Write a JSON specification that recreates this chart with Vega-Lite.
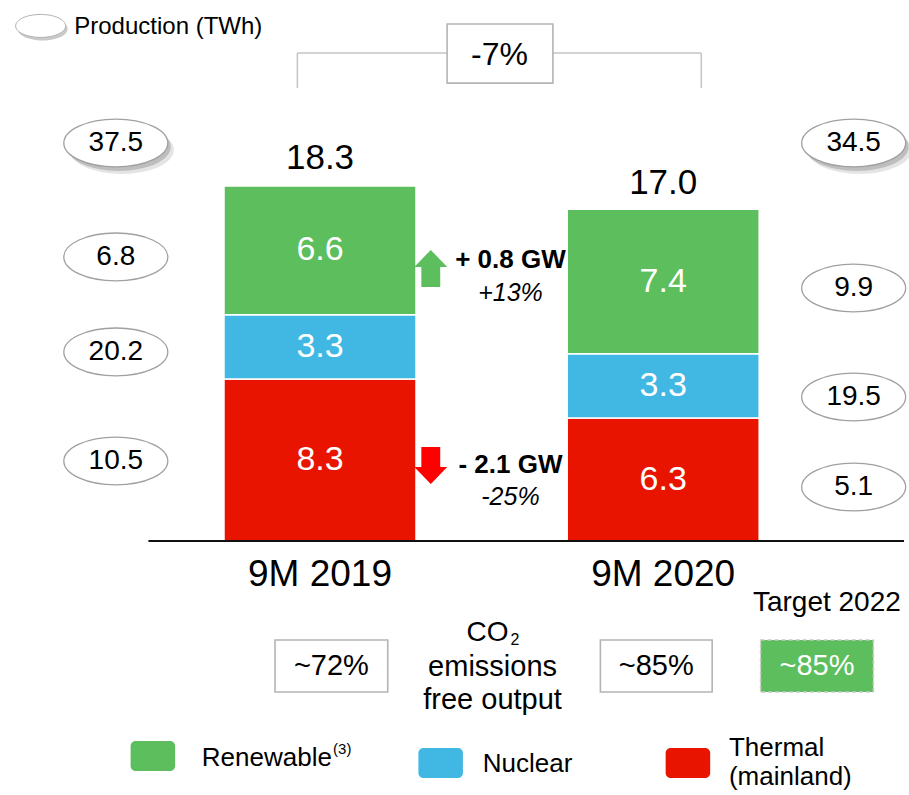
{
  "$schema": "https://vega.github.io/schema/vega-lite/v6.json",
  "width": 909,
  "height": 795,
  "padding": 0,
  "autosize": {"type": "none"},
  "background": "white",
  "config": {"view": {"stroke": null}, "text": {"font": "Liberation Sans", "color": "#000000"}},
  "datasets": {
    "bars": [
      {"period": "9M 2019", "pos": 1, "source": "Thermal", "rank": 1, "value": 8.3},
      {"period": "9M 2019", "pos": 1, "source": "Nuclear", "rank": 2, "value": 3.3},
      {"period": "9M 2019", "pos": 1, "source": "Renewable", "rank": 3, "value": 6.6},
      {"period": "9M 2020", "pos": 2, "source": "Thermal", "rank": 1, "value": 6.3},
      {"period": "9M 2020", "pos": 2, "source": "Nuclear", "rank": 2, "value": 3.3},
      {"period": "9M 2020", "pos": 2, "source": "Renewable", "rank": 3, "value": 7.4}
    ],
    "totals": [
      {"period": "9M 2019", "pos": 1, "total": 18.3},
      {"period": "9M 2020", "pos": 2, "total": 17.0}
    ],
    "production": [
      {"x": 0.405, "y": 20.40, "label": "37.5", "shadow": true},
      {"x": 0.405, "y": 14.56, "label": "6.8", "shadow": false},
      {"x": 0.405, "y": 9.69, "label": "20.2", "shadow": false},
      {"x": 0.405, "y": 4.10, "label": "10.5", "shadow": false},
      {"x": 2.555, "y": 20.40, "label": "34.5", "shadow": true},
      {"x": 2.555, "y": 12.97, "label": "9.9", "shadow": false},
      {"x": 2.555, "y": 7.38, "label": "19.5", "shadow": false},
      {"x": 2.555, "y": 2.77, "label": "5.1", "shadow": false}
    ],
    "lines": [
      {"kind": "bracket", "x": 0.934, "y": 25.01, "x2": 0.934, "y2": 23.22},
      {"kind": "bracket", "x": 0.934, "y": 25.01, "x2": 2.111, "y2": 25.01},
      {"kind": "bracket", "x": 2.111, "y": 25.01, "x2": 2.111, "y2": 23.22},
      {"kind": "base", "x": 0.5, "y": 0, "x2": 2.7017, "y2": 0}
    ],
    "boxes": [
      {"kind": "plain", "x": 1.3703, "x2": 1.6787, "y": 26.50, "y2": 23.47},
      {"kind": "plain", "x": 0.8689, "x2": 1.1974, "y": -5.074, "y2": -7.740},
      {"kind": "plain", "x": 1.8170, "x2": 2.1427, "y": -5.074, "y2": -7.740},
      {"kind": "target", "x": 2.2839, "x2": 2.6124, "y": -5.074, "y2": -7.740}
    ],
    "swatches": [
      {"source": "Renewable", "x": 0.4481, "x2": 0.5778, "y": -10.25, "y2": -11.79},
      {"source": "Nuclear", "x": 1.2867, "x2": 1.4164, "y": -10.61, "y2": -12.15},
      {"source": "Thermal", "x": 2.0072, "x2": 2.1369, "y": -10.61, "y2": -12.15}
    ],
    "arrows": [
      {"dir": "up", "x": 1.3228, "y": 13.97},
      {"dir": "down", "x": 1.3228, "y": 3.87}
    ],
    "texts": [
      {"kind": "pct", "x": 1.5231, "y": 24.91, "text": "-7%"},
      {"kind": "cat", "x": 1, "y": -1.743, "text": "9M 2019"},
      {"kind": "cat", "x": 2, "y": -1.743, "text": "9M 2020"},
      {"kind": "gw", "x": 1.555, "y": 14.40, "text": "+ 0.8 GW"},
      {"kind": "gw", "x": 1.555, "y": 3.895, "text": "- 2.1 GW"},
      {"kind": "chg", "x": 1.555, "y": 12.71, "text": "+13%"},
      {"kind": "chg", "x": 1.555, "y": 2.255, "text": "-25%"},
      {"kind": "target", "x": 2.4769, "y": -3.178, "text": "Target 2022"},
      {"kind": "bottom", "x": 1.0331, "y": -6.407, "text": "~72%"},
      {"kind": "bottom", "x": 1.9798, "y": -6.407, "text": "~85%"},
      {"kind": "bottom", "x": 1.5029, "y": -6.458, "text": "emissions"},
      {"kind": "bottom", "x": 1.5029, "y": -8.150, "text": "free output"},
      {"kind": "bottomw", "x": 2.4481, "y": -6.407, "text": "~85%"},
      {"kind": "co", "x": 1.549, "y": -4.74, "text": "CO"},
      {"kind": "sub", "x": 1.5548, "y": -5.10, "text": "2"},
      {"kind": "legend", "x": 0.6556, "y": -11.12, "text": "Renewable"},
      {"kind": "legend", "x": 1.4741, "y": -11.43, "text": "Nuclear"},
      {"kind": "legend", "x": 2.1916, "y": -10.61, "text": "Thermal"},
      {"kind": "legend", "x": 2.1916, "y": -12.10, "text": "(mainland)"},
      {"kind": "sup", "x": 1.038, "y": -10.66, "text": "(3)"},
      {"kind": "prod", "x": 0.2839, "y": 26.35, "text": "Production (TWh)"}
    ],
    "prodkey": [
      {"x": 0.1859, "y": 26.40}
    ]
  },
  "encoding": {
    "x": {"field": "x", "type": "quantitative", "scale": {"domain": [0.0821, 2.7017], "nice": false, "zero": false}, "axis": null},
    "y": {"field": "y", "type": "quantitative", "scale": {"domain": [-13.019, 27.729], "nice": false, "zero": false}, "axis": null}
  },
  "layer": [
    {
      "data": {"name": "bars"},
      "transform": [
        {"stack": "value", "groupby": ["pos"], "sort": [{"field": "rank", "order": "ascending"}], "as": ["y0", "y1"]}
      ],
      "mark": {"type": "bar", "width": 192, "stroke": "white", "strokeWidth": 1.5},
      "encoding": {
        "x": {"field": "pos", "type": "quantitative", "scale": {"domain": [0.0821, 2.7017], "nice": false, "zero": false}, "axis": null},
        "y": {"field": "y0", "type": "quantitative", "scale": {"domain": [-13.019, 27.729], "nice": false, "zero": false}, "axis": null},
        "y2": {"field": "y1"},
        "color": {"field": "source", "type": "nominal", "scale": {"domain": ["Renewable", "Nuclear", "Thermal"], "range": ["#5CBE5C", "#41B8E4", "#E81400"]}, "legend": null}
      }
    },
    {
      "data": {"name": "bars"},
      "transform": [
        {"stack": "value", "groupby": ["pos"], "sort": [{"field": "rank", "order": "ascending"}], "as": ["y0", "y1"]},
        {"calculate": "(datum.y0 + datum.y1) / 2", "as": "mid"}
      ],
      "mark": {"type": "text", "fontSize": 34, "color": "white", "baseline": "middle", "align": "center"},
      "encoding": {
        "x": {"field": "pos", "type": "quantitative", "scale": {"domain": [0.0821, 2.7017], "nice": false, "zero": false}, "axis": null},
        "y": {"field": "mid", "type": "quantitative", "scale": {"domain": [-13.019, 27.729], "nice": false, "zero": false}, "axis": null},
        "text": {"field": "value", "type": "quantitative", "format": ".1f"}
      }
    },
    {
      "data": {"name": "totals"},
      "mark": {"type": "text", "fontSize": 35, "baseline": "alphabetic", "align": "center", "dy": -15},
      "encoding": {
        "x": {"field": "pos", "type": "quantitative", "scale": {"domain": [0.0821, 2.7017], "nice": false, "zero": false}, "axis": null},
        "y": {"field": "total", "type": "quantitative", "scale": {"domain": [-13.019, 27.729], "nice": false, "zero": false}, "axis": null},
        "text": {"field": "total", "type": "quantitative", "format": ".1f"}
      }
    },
    {
      "data": {"name": "lines"},
      "transform": [{"filter": "datum.kind === 'bracket'"}],
      "mark": {"type": "rule", "color": "#c4c4c4", "strokeWidth": 1.5},
      "encoding": {"x2": {"field": "x2"}, "y2": {"field": "y2"}}
    },
    {
      "data": {"name": "lines"},
      "transform": [{"filter": "datum.kind === 'base'"}],
      "mark": {"type": "rule", "color": "#111111", "strokeWidth": 2.2},
      "encoding": {"x2": {"field": "x2"}, "y2": {"field": "y2"}}
    },
    {
      "data": {"name": "boxes"},
      "transform": [{"filter": "datum.kind === 'plain'"}],
      "mark": {"type": "rect", "fill": "white", "stroke": "#b4b4b4", "strokeWidth": 1.6},
      "encoding": {"x2": {"field": "x2"}, "y2": {"field": "y2"}}
    },
    {
      "data": {"name": "boxes"},
      "transform": [{"filter": "datum.kind === 'target'"}],
      "mark": {"type": "rect", "fill": "#5CBE5C", "stroke": "#c8c8c8", "strokeWidth": 1.6, "strokeDash": [4, 3]},
      "encoding": {"x2": {"field": "x2"}, "y2": {"field": "y2"}}
    },
    {
      "data": {"name": "swatches"},
      "mark": {"type": "rect", "cornerRadius": 5},
      "encoding": {
        "x2": {"field": "x2"},
        "y2": {"field": "y2"},
        "color": {"field": "source", "type": "nominal", "scale": {"domain": ["Renewable", "Nuclear", "Thermal"], "range": ["#5CBE5C", "#41B8E4", "#E81400"]}, "legend": null}
      }
    },
    {
      "data": {"name": "production"},
      "transform": [{"filter": "datum.shadow"}],
      "mark": {"type": "point", "shape": "M-1,0C-1,-0.254,-0.552,-0.46,0,-0.46C0.552,-0.46,1,-0.254,1,0C1,0.254,0.552,0.46,0,0.46C-0.552,0.46,-1,0.254,-1,0Z", "size": 10816, "filled": true, "fill": "#777777", "opacity": 0.2, "strokeWidth": 0, "xOffset": 6, "yOffset": 7}
    },
    {
      "data": {"name": "production"},
      "transform": [{"filter": "datum.shadow"}],
      "mark": {"type": "point", "shape": "M-1,0C-1,-0.254,-0.552,-0.46,0,-0.46C0.552,-0.46,1,-0.254,1,0C1,0.254,0.552,0.46,0,0.46C-0.552,0.46,-1,0.254,-1,0Z", "size": 10816, "filled": true, "fill": "#777777", "opacity": 0.35, "strokeWidth": 0, "xOffset": 3, "yOffset": 4}
    },
    {
      "data": {"name": "production"},
      "mark": {"type": "point", "shape": "M-1,0C-1,-0.254,-0.552,-0.46,0,-0.46C0.552,-0.46,1,-0.254,1,0C1,0.254,0.552,0.46,0,0.46C-0.552,0.46,-1,0.254,-1,0Z", "size": 10816, "filled": true, "fill": "white", "stroke": "#a0a0a0", "strokeWidth": 1.3, "opacity": 1}
    },
    {
      "data": {"name": "production"},
      "mark": {"type": "text", "fontSize": 28, "baseline": "middle", "align": "center"},
      "encoding": {"text": {"field": "label"}}
    },
    {
      "data": {"name": "prodkey"},
      "mark": {"type": "point", "shape": "M-1,0C-1,-0.254,-0.552,-0.46,0,-0.46C0.552,-0.46,1,-0.254,1,0C1,0.254,0.552,0.46,0,0.46C-0.552,0.46,-1,0.254,-1,0Z", "size": 2500, "filled": true, "fill": "#777777", "opacity": 0.4, "strokeWidth": 0, "xOffset": 2, "yOffset": 3}
    },
    {
      "data": {"name": "prodkey"},
      "mark": {"type": "point", "shape": "M-1,0C-1,-0.254,-0.552,-0.46,0,-0.46C0.552,-0.46,1,-0.254,1,0C1,0.254,0.552,0.46,0,0.46C-0.552,0.46,-1,0.254,-1,0Z", "size": 2500, "filled": true, "fill": "white", "stroke": "#b0b0b0", "strokeWidth": 1, "opacity": 1}
    },
    {
      "data": {"name": "arrows"},
      "transform": [{"filter": "datum.dir === 'up'"}],
      "mark": {"type": "point", "shape": "M0,-1L0.89,-0.08L0.51,-0.08L0.51,1L-0.51,1L-0.51,-0.08L-0.89,-0.08Z", "size": 1369, "filled": true, "fill": "#5CBE5C", "strokeWidth": 0, "opacity": 1}
    },
    {
      "data": {"name": "arrows"},
      "transform": [{"filter": "datum.dir === 'down'"}],
      "mark": {"type": "point", "shape": "M0,1L0.89,0.08L0.51,0.08L0.51,-1L-0.51,-1L-0.51,0.08L-0.89,0.08Z", "size": 1369, "filled": true, "fill": "#FF0000", "strokeWidth": 0, "opacity": 1}
    },
    {
      "data": {"name": "texts"},
      "transform": [{"filter": "datum.kind === 'pct'"}],
      "mark": {"type": "text", "fontSize": 32, "baseline": "middle", "align": "center"},
      "encoding": {"text": {"field": "text"}}
    },
    {
      "data": {"name": "texts"},
      "transform": [{"filter": "datum.kind === 'cat'"}],
      "mark": {"type": "text", "fontSize": 37, "baseline": "middle", "align": "center"},
      "encoding": {"text": {"field": "text"}}
    },
    {
      "data": {"name": "texts"},
      "transform": [{"filter": "datum.kind === 'gw'"}],
      "mark": {"type": "text", "fontSize": 26, "fontWeight": "bold", "baseline": "middle", "align": "center"},
      "encoding": {"text": {"field": "text"}}
    },
    {
      "data": {"name": "texts"},
      "transform": [{"filter": "datum.kind === 'chg'"}],
      "mark": {"type": "text", "fontSize": 25, "fontStyle": "italic", "baseline": "middle", "align": "center"},
      "encoding": {"text": {"field": "text"}}
    },
    {
      "data": {"name": "texts"},
      "transform": [{"filter": "datum.kind === 'target'"}],
      "mark": {"type": "text", "fontSize": 28, "baseline": "middle", "align": "center"},
      "encoding": {"text": {"field": "text"}}
    },
    {
      "data": {"name": "texts"},
      "transform": [{"filter": "datum.kind === 'bottom'"}],
      "mark": {"type": "text", "fontSize": 29, "baseline": "middle", "align": "center"},
      "encoding": {"text": {"field": "text"}}
    },
    {
      "data": {"name": "texts"},
      "transform": [{"filter": "datum.kind === 'bottomw'"}],
      "mark": {"type": "text", "fontSize": 29, "baseline": "middle", "align": "center", "color": "white"},
      "encoding": {"text": {"field": "text"}}
    },
    {
      "data": {"name": "texts"},
      "transform": [{"filter": "datum.kind === 'co'"}],
      "mark": {"type": "text", "fontSize": 28, "baseline": "middle", "align": "right"},
      "encoding": {"text": {"field": "text"}}
    },
    {
      "data": {"name": "texts"},
      "transform": [{"filter": "datum.kind === 'sub'"}],
      "mark": {"type": "text", "fontSize": 16, "baseline": "middle", "align": "left"},
      "encoding": {"text": {"field": "text"}}
    },
    {
      "data": {"name": "texts"},
      "transform": [{"filter": "datum.kind === 'legend'"}],
      "mark": {"type": "text", "fontSize": 26, "baseline": "middle", "align": "left"},
      "encoding": {"text": {"field": "text"}}
    },
    {
      "data": {"name": "texts"},
      "transform": [{"filter": "datum.kind === 'sup'"}],
      "mark": {"type": "text", "fontSize": 15, "baseline": "middle", "align": "left"},
      "encoding": {"text": {"field": "text"}}
    },
    {
      "data": {"name": "texts"},
      "transform": [{"filter": "datum.kind === 'prod'"}],
      "mark": {"type": "text", "fontSize": 24, "baseline": "middle", "align": "left"},
      "encoding": {"text": {"field": "text"}}
    }
  ]
}
